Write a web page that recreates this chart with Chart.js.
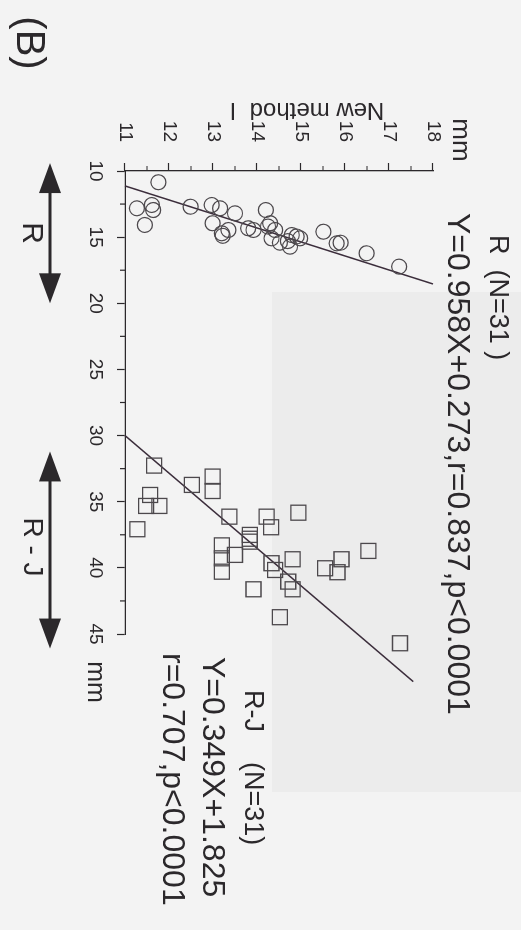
<!DOCTYPE html>
<html>
<head>
<meta charset="utf-8">
<script src="https://cdn.jsdelivr.net/npm/chart.js@4.4.0/dist/chart.umd.min.js"></script>
<style>
  html, body { margin: 0; padding: 0; width: 521px; height: 930px; overflow: hidden; background: #f3f3f3; }
  #shade { position: absolute; left: 272px; top: 292px; width: 249px; height: 500px; background: #ececec; }
  /* the figure is printed sideways: draw it upright, then turn it 90deg clockwise */
  #wrap { position: absolute; left: 0; top: 0; width: 930px; height: 521px;
          transform-origin: 0 0; transform: translate(521px, 0) rotate(90deg); }
</style>
</head>
<body>
<div id="shade"></div>
<div id="wrap"><canvas id="chart" width="930" height="521"></canvas></div>
<script>
// ===== Data =====
// R group (circles)
const rX = [10.85, 12.82, 12.57, 12.95, 14.08, 12.70, 12.57, 12.82, 13.20, 13.95,
            14.71, 14.46, 14.33, 14.46, 12.95, 13.95, 14.46, 15.09, 15.42, 14.84,
            15.72, 15.09, 14.59, 15.47, 15.42, 16.22, 17.23, 14.90, 15.30, 14.20, 14.95];
const rY = [11.76, 11.27, 11.61, 11.64, 11.45, 12.49, 12.97, 13.16, 13.50, 12.99,
            13.20, 13.35, 13.80, 13.92, 14.20, 14.30, 14.41, 14.33, 14.52, 14.79,
            14.75, 14.98, 15.51, 15.81, 15.90, 16.49, 17.23, 13.22, 14.70, 14.25, 14.90];

// R-J group (squares)
const rjX = [32.27, 34.49, 35.32, 35.32, 37.08, 33.73, 33.10, 34.19, 36.13, 36.13,
             36.93, 35.83, 37.51, 38.02, 38.30, 39.28, 40.29, 39.02, 39.65, 40.16,
             39.35, 41.04, 41.62, 41.62, 43.73, 40.03, 39.35, 40.33, 38.72, 45.70, 37.80];
const rjY = [11.66, 11.57, 11.48, 11.78, 11.28, 12.52, 12.99, 12.99, 13.37, 14.22,
             14.32, 14.94, 13.84, 13.84, 13.20, 13.20, 13.20, 13.50, 14.33, 14.41,
             14.81, 14.71, 14.81, 13.92, 14.52, 15.55, 15.92, 15.83, 16.53, 17.25, 13.84];

// regression lines, end points as drawn
const fitRX = [11.13, 18.54];
const fitRY = [11.0, 18.0];
const fitRJX = [30.0, 48.6];
const fitRJY = [11.0, 17.55];

// axes
const xTicks = [10, 15, 20, 25, 30, 35, 40, 45];
const xMinor = [12.5, 17.5, 22.5, 27.5, 32.5, 37.5, 42.5];
const yTicks = [11, 12, 13, 14, 15, 16, 17, 18];
const yMinor = [11.5, 12.5, 13.5, 14.5, 15.5, 16.5, 17.5];

// spans of the two range arrows under the axis
const spanR = [9.4, 20.0];
const spanRJ = [31.2, 46.1];

// ===== Helpers =====
const ink = '#2b282b';
const FONT = "'Liberation Sans', Arial, sans-serif";
const pts = (xs, ys) => xs.map((x, i) => ({ x, y: ys[i] }));

function arrow(ctx, u1, u2, v) {
  const hl = 30, hw = 11;
  ctx.lineWidth = 3;
  ctx.beginPath(); ctx.moveTo(u1 + hl - 2, v); ctx.lineTo(u2 - hl + 2, v); ctx.stroke();
  ctx.beginPath(); ctx.moveTo(u1, v); ctx.lineTo(u1 + hl, v - hw); ctx.lineTo(u1 + hl, v + hw); ctx.closePath(); ctx.fill();
  ctx.beginPath(); ctx.moveTo(u2, v); ctx.lineTo(u2 - hl, v - hw); ctx.lineTo(u2 - hl, v + hw); ctx.closePath(); ctx.fill();
}

function text(ctx, str, u, v, size, align = 'left', rot = 0) {
  ctx.save();
  ctx.font = `${size}px ${FONT}`;
  ctx.textAlign = align;
  ctx.textBaseline = 'middle';
  ctx.translate(u, v);
  if (rot) ctx.rotate(rot);
  ctx.fillText(str, 0, 0);
  ctx.restore();
}

// minor ticks, labels, arrows
const annotate = {
  id: 'annotate',
  afterDraw(chart) {
    const { ctx, chartArea: a, scales: { x, y } } = chart;
    ctx.save();
    ctx.strokeStyle = ink; ctx.fillStyle = ink; ctx.lineWidth = 1.2;
    ctx.beginPath();
    xMinor.forEach(t => { const u = x.getPixelForValue(t); ctx.moveTo(u, a.bottom); ctx.lineTo(u, a.bottom + 5); });
    yMinor.forEach(t => { const v = y.getPixelForValue(t); ctx.moveTo(a.left - 5, v); ctx.lineTo(a.left, v); });
    ctx.stroke();

    text(ctx, 'mm', a.left - 31, 61, 26, 'center');
    text(ctx, 'mm', x.getPixelForValue(45) + 48, 426, 25, 'center');
    text(ctx, 'New method  I', 110, 214, 24, 'center', Math.PI / 2);

    text(ctx, 'R  (N=31 )', 235, 24, 27);
    text(ctx, 'Y=0.958X+0.273,r=0.837,p<0.0001', 213, 64, 32);
    text(ctx, 'R-J    (N=31)', 690, 269, 27);
    text(ctx, 'Y=0.349X+1.825', 657, 309, 32);
    text(ctx, 'r=0.707,p<0.0001', 653, 349, 32);

    text(ctx, '(B)', 43, 493, 40, 'center');
    arrow(ctx, x.getPixelForValue(spanR[0]), x.getPixelForValue(spanR[1]), 471);
    arrow(ctx, x.getPixelForValue(spanRJ[0]), x.getPixelForValue(spanRJ[1]), 471);
    text(ctx, 'R', (x.getPixelForValue(spanR[0]) + x.getPixelForValue(spanR[1])) / 2, 490, 30, 'center');
    text(ctx, 'R - J', 547, 489, 28, 'center');
    ctx.restore();
  }
};

// ===== Chart =====
Chart.defaults.font.family = FONT;
Chart.defaults.color = ink;

const axisCommon = {
  type: 'linear',
  grid: { drawOnChartArea: false, tickLength: 8, tickColor: ink, tickWidth: 1.2 },
  border: { display: true, color: ink, width: 1.3 }
};

new Chart(document.getElementById('chart').getContext('2d'), {
  type: 'scatter',
  data: {
    datasets: [
      { label: 'R', data: pts(rX, rY), pointStyle: 'circle', pointRadius: 7.5,
        borderColor: '#4c484c', borderWidth: 1.2, backgroundColor: 'transparent', clip: false },
      { label: 'R-J', data: pts(rjX, rjY), pointStyle: 'rect', pointRadius: 10.6,
        borderColor: '#4c484c', borderWidth: 1.3, backgroundColor: 'transparent', clip: false },
      { label: 'fit R', data: pts(fitRX, fitRY), showLine: true, pointRadius: 0,
        borderColor: '#3b2d3b', borderWidth: 1.5, clip: false },
      { label: 'fit R-J', data: pts(fitRJX, fitRJY), showLine: true, pointRadius: 0,
        borderColor: '#3b2d3b', borderWidth: 1.5, clip: false }
    ]
  },
  options: {
    responsive: false, animation: false, devicePixelRatio: 1,
    layout: { padding: { top: 88, right: 296, left: 0, bottom: 0 } },
    plugins: { legend: { display: false }, tooltip: { enabled: false } },
    scales: {
      x: { ...axisCommon, min: 10, max: 45,
           afterFit: s => { s.height = 125; },
           afterBuildTicks: s => { s.ticks = xTicks.map(value => ({ value })); },
           ticks: { font: { size: 19 }, padding: 10, maxRotation: 0, minRotation: 0 } },
      y: { ...axisCommon, min: 11, max: 18,
           afterFit: s => { s.width = 171; },
           afterBuildTicks: s => { s.ticks = yTicks.map(value => ({ value })); },
           ticks: { font: { size: 19 }, padding: 21 } }
    }
  },
  plugins: [annotate]
});
</script>
</body>
</html>
